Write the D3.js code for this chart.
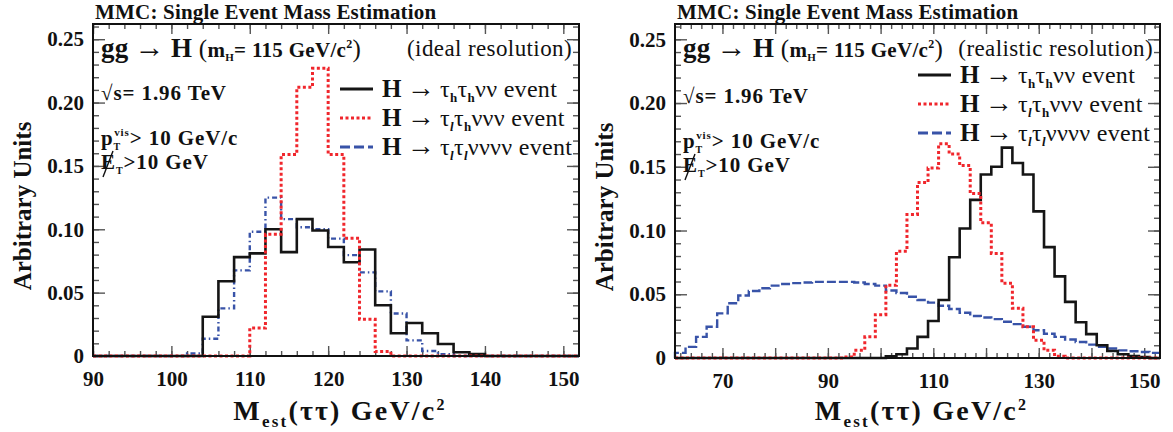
<!DOCTYPE html>
<html>
<head>
<meta charset="utf-8">
<script src="https://cdn.jsdelivr.net/npm/d3@7"></script>
<style>
  body { margin: 0; background: #fff; }
  text { font-family: "Liberation Serif", "DejaVu Serif", serif; fill: #111; }
</style>
</head>
<body>
<svg id="chart" width="1173" height="432"></svg>
<script>
// ---- data : 2 GeV bins, low edges ----
var leftEdges = [90,92,94,96,98,100,102,104,106,108,110,112,114,116,118,120,122,124,126,128,130,132,134,136,138,140,142,144,146,148,150];
var leftHH = [0,0,0,0,0,0,0,0.031,0.059,0.078,0.081,0.100,0.082,0.108,0.099,0.086,0.074,0.084,0.040,0.018,0.026,0.018,0.0095,0.003,0.0015,0,0,0,0,0,0];
var leftLH = [0,0,0,0,0,0,0,0,0,0,0.022,0.096,0.159,0.212,0.227,0.159,0.093,0.029,0.0035,0,0,0,0,0,0,0,0,0,0,0,0];
var leftLL = [0,0,0,0,0,0,0.002,0.0136,0.0376,0.0676,0.098,0.125,0.108,0.1016,0.100,0.0926,0.0796,0.066,0.051,0.0335,0.0123,0.004,0.0014,0,0,0,0,0,0,0,0];

var rightEdges = [61,63,65,67,69,71,73,75,77,79,81,83,85,87,89,91,93,95,97,99,101,103,105,107,109,111,113,115,117,119,121,123,125,127,129,131,133,135,137,139,141,143,145,147,149,151];
var rightHH = [0,0,0,0,0,0,0,0,0,0,0,0,0,0,0,0,0,0,0,0,0.0013,0.003,0.0074,0.0166,0.029,0.0455,0.079,0.1016,0.124,0.144,0.150,0.165,0.153,0.144,0.115,0.087,0.064,0.044,0.028,0.0187,0.010,0.0055,0.003,0.0016,0.0008,0];
var rightLH = [0,0,0,0,0,0,0,0,0,0,0,0,0,0,0,0,0.0008,0.006,0.0166,0.034,0.057,0.0837,0.1126,0.1376,0.149,0.168,0.160,0.151,0.129,0.106,0.082,0.0587,0.039,0.0245,0.014,0.006,0.0013,0,0,0,0,0,0,0,0,0];
var rightLL = [0.004,0.0087,0.0166,0.0245,0.035,0.043,0.049,0.0526,0.0547,0.0568,0.058,0.0587,0.0592,0.0597,0.0597,0.0597,0.0597,0.0592,0.058,0.0568,0.053,0.051,0.048,0.0455,0.0434,0.041,0.0384,0.0355,0.033,0.0318,0.0305,0.0284,0.0266,0.0245,0.0218,0.019,0.0166,0.0145,0.0126,0.0105,0.0087,0.0074,0.006,0.0053,0.0047,0.004];

var binWidth = 2;
var yTickVals = [0, 0.05, 0.10, 0.15, 0.20, 0.25];
var yTickText = ["0", "0.05", "0.10", "0.15", "0.20", "0.25"];
var leftXLabels = [90, 100, 110, 120, 130, 140, 150];
var rightXLabels = [70, 90, 110, 130, 150];

var svg = d3.select('#chart');

var RED = '#f0262c', BLUE = '#3853a8', BLACK = '#151515';

// rich text helper: parts = [{t, s, b, i, dy, dx}]
function rich(g, x, y, parts, anchor, ls) {
  var t = g.append('text').attr('x', x).attr('y', y).attr('text-anchor', anchor || 'start');
  if (ls) t.style('letter-spacing', ls + 'px');
  parts.forEach(function(p) {
    var s = t.append('tspan').text(p.t)
      .style('font-size', p.s + 'px')
      .style('font-weight', p.b ? 'bold' : 'normal');
    if (p.i) s.style('font-style', 'italic');
    if (p.dy) s.attr('dy', p.dy);
    if (p.dx) s.attr('dx', p.dx);
  });
  return t;
}

function histPath(x, y, edges, vals) {
  var pts = [[edges[0], 0]];
  edges.forEach(function(e, i) { pts.push([e, vals[i]]); });
  pts.push([edges[edges.length - 1] + binWidth, vals[vals.length - 1]]);
  return d3.line()
    .x(function(d) { return x(d[0]); })
    .y(function(d) { return y(d[1]); })
    .curve(d3.curveStepAfter)(pts);
}

function drawPanel(p) {
  var g = svg.append('g');
  var x = d3.scaleLinear().domain(p.xDom).range([p.left, p.right]);
  var y = d3.scaleLinear().domain([0, 0.262]).range([p.bottom, p.top]);

  // title
  g.append('text').attr('x', p.left + 2).attr('y', 19)
    .style('font-size', '21px').style('font-weight', 'bold')
    .style('letter-spacing', '0.2px')
    .text('MMC: Single Event Mass Estimation');

  // minor / major ticks
  var minorY = d3.range(0.01, 0.262, 0.01);
  var minorX = d3.range(Math.ceil(p.xDom[0] / 2) * 2, p.xDom[1], 2);
  var majorX = d3.range(Math.ceil(p.xDom[0] / 10) * 10, p.xDom[1] + 0.1, 10);

  function tickAxis(axis, tr, vals, size) {
    var a = g.append('g').attr('transform', tr)
      .call(axis.tickValues(vals).tickSize(size).tickSizeOuter(0).tickFormat(''));
    a.select('.domain').remove();
    a.selectAll('line').attr('stroke', '#555').attr('stroke-width', 1.4);
    return a;
  }
  tickAxis(d3.axisLeft(y), 'translate(' + p.left + ',0)', minorY, -6);
  tickAxis(d3.axisRight(y), 'translate(' + p.right + ',0)', minorY, -6);
  tickAxis(d3.axisLeft(y), 'translate(' + p.left + ',0)', yTickVals, -12);
  tickAxis(d3.axisRight(y), 'translate(' + p.right + ',0)', yTickVals, -12);
  tickAxis(d3.axisBottom(x), 'translate(0,' + p.bottom + ')', minorX, -5);
  tickAxis(d3.axisTop(x), 'translate(0,' + p.top + ')', minorX, -5);
  tickAxis(d3.axisBottom(x), 'translate(0,' + p.bottom + ')', majorX, -10);
  tickAxis(d3.axisTop(x), 'translate(0,' + p.top + ')', majorX, -10);

  // tick labels
  var yl = g.append('g').attr('transform', 'translate(' + p.left + ',0)')
    .call(d3.axisLeft(y).tickValues(yTickVals).tickSize(0).tickPadding(9)
      .tickFormat(function(d, i) { return yTickText[i]; }));
  yl.select('.domain').remove();
  yl.selectAll('text').style('font-size', '21px').style('font-weight', 'bold')
    .style('font-family', '"Liberation Serif", serif').attr('fill', '#111');

  var xl = g.append('g').attr('transform', 'translate(0,' + p.bottom + ')')
    .call(d3.axisBottom(x).tickValues(p.xLabels).tickSize(0).tickPadding(15)
      .tickFormat(d3.format('d')));
  xl.select('.domain').remove();
  xl.selectAll('text').style('font-size', '21px').style('font-weight', 'bold')
    .style('font-family', '"Liberation Serif", serif').attr('fill', '#111');

  // axis titles
  g.append('text')
    .attr('transform', 'translate(' + (p.left - 62) + ',' + ((p.top + p.bottom) / 2 + 16) + ') rotate(-90)')
    .attr('text-anchor', 'middle')
    .style('font-size', '25px').style('font-weight', 'bold')
    .text('Arbitrary Units');

  rich(g, (p.left + p.right) / 2 + 4, 420, [
    {t: 'M', s: 28, b: true},
    {t: 'est', s: 17, b: true, dy: 7},
    {t: '(ττ) GeV/c', s: 28, b: true, dy: -7},
    {t: '2', s: 16, b: true, dy: -10},
  ], 'middle', 2.2);

  // histograms
  var lines = g.append('g');
  lines.append('path').attr('d', histPath(x, y, p.edges, p.ll))
    .attr('fill', 'none').attr('stroke', BLUE).attr('stroke-width', 2.4)
    .attr('stroke-dasharray', p.blueDash);
  lines.append('path').attr('d', histPath(x, y, p.edges, p.hh))
    .attr('fill', 'none').attr('stroke', BLACK).attr('stroke-width', 2.6);
  lines.append('path').attr('d', histPath(x, y, p.edges, p.lh))
    .attr('fill', 'none').attr('stroke', RED).attr('stroke-width', 3)
    .attr('stroke-dasharray', '3,2.5');

  // frame
  g.append('rect').attr('x', p.left).attr('y', p.top)
    .attr('width', p.right - p.left).attr('height', p.bottom - p.top)
    .attr('fill', 'none').attr('stroke', '#111').attr('stroke-width', 2);

  // annotations
  var tx = p.left + 8;
  rich(g, tx, 57, [
    {t: 'gg', s: 27, b: true},
    {t: '→', s: 30, dx: 6},
    {t: 'H', s: 27, b: true, dx: 6},
    {t: ' (', s: 25},
    {t: 'm', s: 21, b: true},
    {t: 'H', s: 11, b: true, dy: 4},
    {t: '= 115 GeV/c', s: 21, b: true, dy: -4},
    {t: '2', s: 12, b: true, dy: -9},
    {t: ')', s: 25, dy: 9}
  ], 'start', 0.3);
  rich(g, p.right - 7, 56, [{t: p.resolution, s: 23}], 'end', 0.4);

  rich(g, tx, p.sY, [
    {t: '√', s: 21, b: true},
    {t: 's= 1.96 TeV', s: 21, b: true}
  ], 'start', 0.9);
  rich(g, tx, p.sY + 45, [
    {t: 'p', s: 21, b: true},
    {t: 'T', s: 10, b: true, dy: 5},
    {t: 'vis', s: 11, b: true, dy: -14, dx: -7},
    {t: '> 10 GeV/c', s: 21, b: true, dy: 9}
  ], 'start', 0.9);
  rich(g, tx, p.sY + 69, [
    {t: 'E', s: 21, b: true},
    {t: 'T', s: 10, b: true, dy: 5},
    {t: '>10 GeV', s: 21, b: true, dy: -5}
  ], 'start', 0.9);
  // missing-ET slash
  g.append('line')
    .attr('x1', tx + 2).attr('y1', p.sY + 77).attr('x2', tx + 12).attr('y2', p.sY + 51)
    .attr('stroke', '#111').attr('stroke-width', 1.4);

  // legend
  var legend = [
    {color: BLACK, dash: null, w: 3.2, parts: [
      {t: 'H', s: 25, b: true}, {t: '→', s: 28, dx: 5}, {t: 'τ', s: 24, dx: 5},
      {t: 'h', s: 13, b: true, dy: 5}, {t: 'τ', s: 24, dy: -5},
      {t: 'h', s: 13, b: true, dy: 5}, {t: 'νν event', s: 24, dy: -5}]},
    {color: RED, dash: '3,2.5', w: 3.2, parts: [
      {t: 'H', s: 25, b: true}, {t: '→', s: 28, dx: 5}, {t: 'τ', s: 24, dx: 5},
      {t: 'l', s: 13, b: true, i: true, dy: 5}, {t: 'τ', s: 24, dy: -5},
      {t: 'h', s: 13, b: true, dy: 5}, {t: 'ννν event', s: 24, dy: -5}]},
    {color: BLUE, dash: '10,4', w: 3.2, parts: [
      {t: 'H', s: 25, b: true}, {t: '→', s: 28, dx: 5}, {t: 'τ', s: 24, dx: 5},
      {t: 'l', s: 13, b: true, i: true, dy: 5}, {t: 'τ', s: 24, dy: -5},
      {t: 'l', s: 13, b: true, i: true, dy: 5}, {t: 'νννν event', s: 24, dy: -5}]}
  ];
  legend.forEach(function(l, i) {
    var ly = p.legY + i * 29;
    g.append('line').attr('x1', p.legX).attr('x2', p.legX + 33)
      .attr('y1', ly).attr('y2', ly)
      .attr('stroke', l.color).attr('stroke-width', l.w)
      .attr('stroke-dasharray', l.dash);
    rich(g, p.legX + 42, ly + 8, l.parts, 'start', 0.3);
  });
}

drawPanel({
  left: 93, right: 579, top: 24, bottom: 356,
  xDom: [90, 152], xLabels: leftXLabels,
  edges: leftEdges, hh: leftHH, lh: leftLH, ll: leftLL,
  blueDash: '5,3,1.5,3', resolution: '(ideal resolution)',
  sY: 100, legX: 340, legY: 89
});
drawPanel({
  left: 675, right: 1160, top: 24, bottom: 358,
  xDom: [61, 153], xLabels: rightXLabels,
  edges: rightEdges, hh: rightHH, lh: rightLH, ll: rightLL,
  blueDash: '9,3', resolution: '(realistic resolution)',
  sY: 103, legX: 918, legY: 75
});
</script>
</body>
</html>
